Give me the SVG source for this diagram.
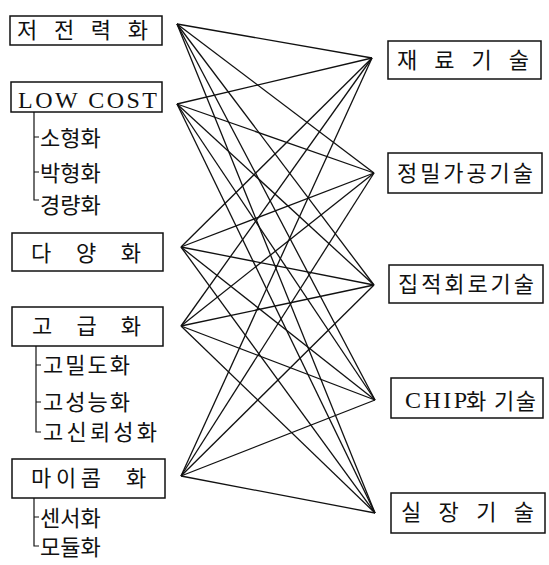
<svg xmlns="http://www.w3.org/2000/svg" width="549" height="565" viewBox="0 0 549 565">
<style>
.box{fill:#fff;stroke:#111;stroke-width:1.5}
.k{font-family:"Noto Sans CJK KR",sans-serif;font-size:22px;fill:#111}
.e{font-family:"Liberation Serif","Noto Sans CJK KR",serif;font-size:24px;fill:#111}
.tree{fill:none;stroke:#111;stroke-width:1.2}
#connectors line{stroke:#111;stroke-width:1.3}
</style>
<rect width="549" height="565" fill="#fff"/>
<g id="connectors">
<line x1="177" y1="24" x2="372" y2="58"/>
<line x1="177" y1="24" x2="374" y2="173"/>
<line x1="177" y1="24" x2="374" y2="285"/>
<line x1="177" y1="24" x2="375" y2="400"/>
<line x1="177" y1="24" x2="375" y2="513"/>
<line x1="177" y1="104" x2="372" y2="58"/>
<line x1="177" y1="104" x2="374" y2="173"/>
<line x1="177" y1="104" x2="374" y2="285"/>
<line x1="177" y1="104" x2="375" y2="400"/>
<line x1="177" y1="104" x2="375" y2="513"/>
<line x1="181" y1="247" x2="372" y2="58"/>
<line x1="181" y1="247" x2="374" y2="173"/>
<line x1="181" y1="247" x2="374" y2="285"/>
<line x1="181" y1="247" x2="375" y2="400"/>
<line x1="181" y1="247" x2="375" y2="513"/>
<line x1="181" y1="326" x2="372" y2="58"/>
<line x1="181" y1="326" x2="374" y2="173"/>
<line x1="181" y1="326" x2="374" y2="285"/>
<line x1="181" y1="326" x2="375" y2="400"/>
<line x1="181" y1="326" x2="375" y2="513"/>
<line x1="181" y1="476" x2="372" y2="58"/>
<line x1="181" y1="476" x2="374" y2="173"/>
<line x1="181" y1="476" x2="374" y2="285"/>
<line x1="181" y1="476" x2="375" y2="400"/>
<line x1="181" y1="476" x2="375" y2="513"/>
</g>
<g id="n-lowpower">
<rect class="box" x="10" y="16" width="152" height="29"/>
<text class="k" x="17" y="38" textLength="131" lengthAdjust="spacing">저 전 력 화</text>
</g>
<g id="n-lowcost">
<rect class="box" x="11" y="82" width="151" height="30"/>
<text class="e" x="18" y="108" textLength="139" lengthAdjust="spacing">LOW COST</text>
<path class="tree" d="M34 112 V200 H39 M34 137 H39 M34 172 H39"/>
<text class="k" x="40" y="146">소형화</text>
<text class="k" x="40" y="181">박형화</text>
<text class="k" x="40" y="213">경량화</text>
</g>
<g id="n-diverse">
<rect class="box" x="12" y="233" width="151" height="38"/>
<text class="k" x="31" y="261" textLength="110" lengthAdjust="spacing">다 양 화</text>
</g>
<g id="n-highend">
<rect class="box" x="12" y="307" width="151" height="39"/>
<text class="k" x="32" y="334" textLength="109" lengthAdjust="spacing">고 급 화</text>
<path class="tree" d="M36 346 V432 H41 M36 365 H41 M36 402 H41"/>
<text class="k" x="43" y="373" textLength="87" lengthAdjust="spacing">고밀도화</text>
<text class="k" x="43" y="410" textLength="87" lengthAdjust="spacing">고성능화</text>
<text class="k" x="43" y="440" textLength="114" lengthAdjust="spacing">고신뢰성화</text>
</g>
<g id="n-micom">
<rect class="box" x="12" y="459" width="153" height="39"/>
<text class="k" x="31" y="486" textLength="70" lengthAdjust="spacing">마이콤</text>
<text class="k" x="126" y="486">화</text>
<path class="tree" d="M34 498 V546 H39 M34 517 H39"/>
<text class="k" x="40" y="526">센서화</text>
<text class="k" x="40" y="555">모듈화</text>
</g>
<g id="n-material">
<rect class="box" x="388" y="41" width="153" height="38"/>
<text class="k" x="397" y="68" textLength="132" lengthAdjust="spacing">재 료 기 술</text>
</g>
<g id="n-precision">
<rect class="box" x="388" y="153" width="154" height="40"/>
<text class="k" x="397" y="181" textLength="136" lengthAdjust="spacing">정밀가공기술</text>
</g>
<g id="n-ic">
<rect class="box" x="389" y="265" width="154" height="38"/>
<text class="k" x="398" y="292" textLength="136" lengthAdjust="spacing">집적회로기술</text>
</g>
<g id="n-chip">
<rect class="box" x="391" y="378" width="152" height="40"/>
<text class="e" x="405" y="408" textLength="62" lengthAdjust="spacing">CHIP</text>
<text class="k" x="466" y="409">화</text>
<text class="k" x="494" y="409" textLength="42" lengthAdjust="spacing">기술</text>
</g>
<g id="n-mount">
<rect class="box" x="391" y="493" width="154" height="40"/>
<text class="k" x="401" y="520" textLength="133" lengthAdjust="spacing">실 장 기 술</text>
</g>
</svg>
